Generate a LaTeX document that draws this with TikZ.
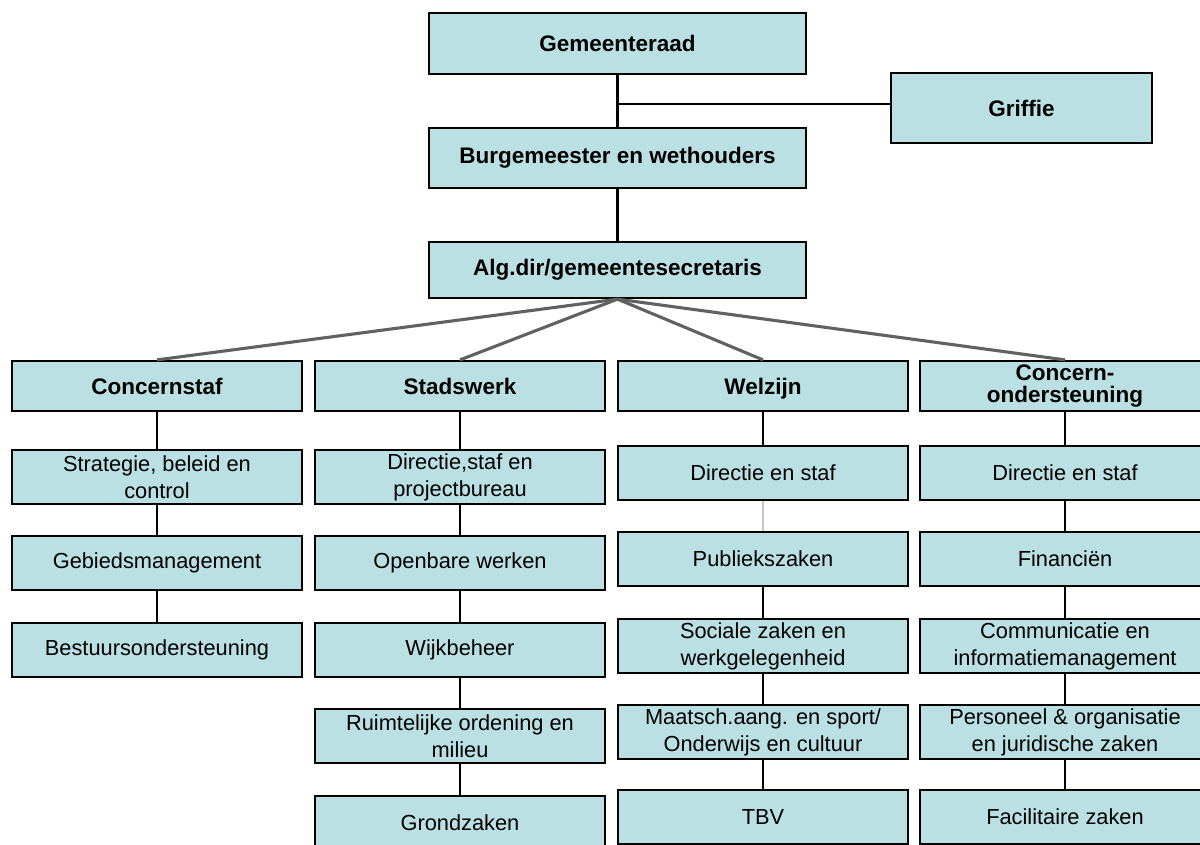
\documentclass[tikz,border=0pt]{standalone}
\usepackage{fontspec}
\setmainfont{Liberation Sans}
\definecolor{boxblue}{RGB}{187,224,227}
\newcommand{\unitfont}{\fontsize{15.5}{19}\selectfont}
\newcommand{\headfont}{\fontsize{16}{16}\selectfont\bfseries}
\begin{document}
\begin{tikzpicture}[x=0.025cm,y=-0.025cm]
\tikzstyle{unit}=[draw,fill=boxblue,line width=1.6pt,inner sep=0pt,align=center,minimum width=7.25cm,minimum height=1.35cm,font=\unitfont]
\tikzstyle{head}=[unit,minimum height=1.25cm,font=\headfont]
\tikzstyle{top}=[unit,minimum width=9.425cm,font=\headfont]
\tikzstyle{link}=[line width=1.9pt]
\tikzstyle{ribbon}=[line width=2.2pt,draw=black!62]
\useasboundingbox (0,0) rectangle (1200,844);
\path (617.5,43.5) node[top,minimum height=1.525cm](r0){Gemeenteraad};
\path (1021.5,108) node[top,minimum width=6.525cm,minimum height=1.75cm](g0){Griffie};
\path (617.5,158) node[top,minimum height=1.5cm](b0){Burgemeester en wethouders} (617.5,270) node[top,minimum height=1.4cm](s0){Alg.dir/gemeentesecretaris};
\coordinate (j0) at (617.5,104);
\draw[link] (r0) -- (b0) -- (s0);
\draw[line width=1.4pt] (j0) -- (j0 -| g0.west);

\path (157,386) node[head](h1){Concernstaf} (460,386) node[head](h2){Stadswerk} (763,386) node[head,text depth=0pt](h3){Welzijn} (1065,386) node[head](h4){Concern-\\ondersteuning};
\draw[ribbon] (s0.south) -- (h1.north);
\draw[ribbon] (s0.south) -- (h2.north);
\draw[ribbon] (s0.south) -- (h3.north);
\draw[ribbon] (s0.south) -- (h4.north);

\path (157,477) node[unit](p1){Strategie, beleid en\\control} (157,563) node[unit](p2){Gebiedsmanagement} (157,650) node[unit](p3){Bestuursondersteuning};
\path (460,477) node[unit](q1){Directie,staf en\\projectbureau} (460,563) node[unit](q2){Openbare werken} (460,650) node[unit](q3){Wijkbeheer};
\path (460,736) node[unit](q4){Ruimtelijke ordening en\\milieu} (460,823) node[unit](q5){Grondzaken};
\path (763,473) node[unit](u1){Directie en staf} (763,559) node[unit](u2){Publiekszaken} (763,646) node[unit](u3){Sociale zaken en\\werkgelegenheid};
\path (763,732) node[unit](u4){Maatsch.aang. en sport/\\Onderwijs en cultuur} (763,817) node[unit](u5){TBV};
\path (1065,473) node[unit](v1){Directie en staf} (1065,559) node[unit](v2){Financiën} (1065,646) node[unit](v3){Communicatie en\\informatiemanagement};
\path (1065,732) node[unit](v4){Personeel \& organisatie\\en juridische zaken} (1065,817) node[unit](v5){Facilitaire zaken};
\draw[link] (h1) -- (p1) -- (p2) -- (p3);
\draw[link] (h2) -- (q1) -- (q2) -- (q3) -- (q4) -- (q5);
\draw[link] (h3) -- (u1);
\draw[link,gray!45] (u1) -- (u2);
\draw[link] (u2) -- (u3) -- (u4) -- (u5);
\draw[link] (h4) -- (v1) -- (v2) -- (v3) -- (v4) -- (v5);
\end{tikzpicture}
\end{document}
